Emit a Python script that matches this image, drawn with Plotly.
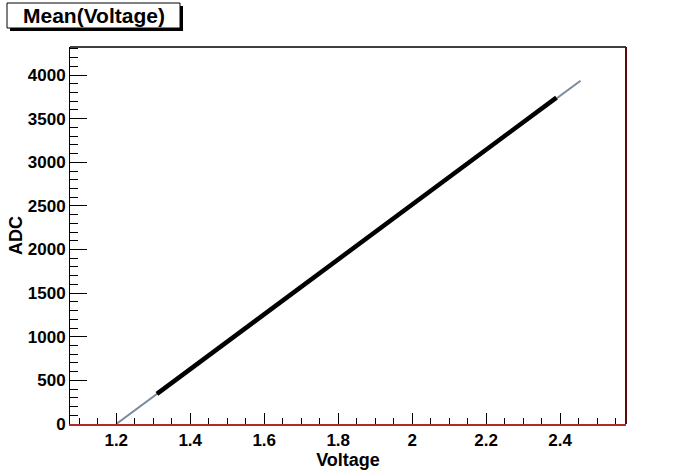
import plotly.graph_objects as go

# Measured data (Voltage vs ADC)
voltage = [1.31, 1.35, 1.40, 1.45, 1.50, 1.55, 1.60, 1.65, 1.70, 1.75, 1.80, 1.85,
           1.90, 1.95, 2.00, 2.05, 2.10, 2.15, 2.20, 2.25, 2.30, 2.35, 2.39]
adc = [346, 472, 629, 786, 943, 1100, 1258, 1415, 1572, 1729, 1886, 2044,
       2201, 2358, 2515, 2672, 2830, 2987, 3144, 3301, 3458, 3616, 3742]

# Linear fit drawn over full range
fit_voltage = [1.2, 2.455]
fit_adc = [0, 3935]

x_range = [1.075, 2.578]
y_range = [0, 4322]

FONT = "Liberation Sans"

fig = go.Figure()
fig.add_trace(go.Scatter(x=fit_voltage, y=fit_adc, mode="lines",
                         line=dict(color="#7a8a9a", width=2), showlegend=False))
fig.add_trace(go.Scatter(x=voltage, y=adc, mode="lines",
                         line=dict(color="black", width=4.5), showlegend=False))

fig.update_layout(
    width=696, height=472,
    margin=dict(l=70, r=70, t=47, b=48, autoexpand=False),
    paper_bgcolor="white", plot_bgcolor="white",
    font=dict(family=FONT, size=17, color="black", weight="bold"),
    xaxis=dict(range=x_range, showgrid=False, zeroline=False, automargin=False,
               showline=True, linecolor="#b02a2a", linewidth=2,
               ticks="inside", ticklen=11, tickwidth=1, tickcolor="black",
               dtick=0.2, tick0=1.2,
               tickfont=dict(family=FONT, size=17, weight="bold"),
               minor=dict(ticks="inside", ticklen=6, dtick=0.05, tick0=1.2, tickcolor="black"),
               title=dict(text="Voltage", font=dict(family=FONT, size=18, weight="bold"), standoff=2)),
    yaxis=dict(range=y_range, showgrid=False, zeroline=False, automargin=False,
               showline=True, linecolor="black", linewidth=1,
               ticks="inside", ticklen=17, tickwidth=1, tickcolor="black",
               dtick=500, tick0=0,
               tickfont=dict(family=FONT, size=17, weight="bold"),
               minor=dict(ticks="inside", ticklen=8, dtick=100, tickcolor="black"),
               title=dict(text="ADC", font=dict(family=FONT, size=18, weight="bold"), standoff=0)),
)

# Top (black) and right (dark red) frame lines
fig.add_shape(type="line", xref="paper", yref="paper", x0=0, x1=1, y0=1, y1=1,
              line=dict(color="black", width=1.5))
fig.add_shape(type="line", xref="paper", yref="paper", x0=1, x1=1, y0=0, y1=1,
              line=dict(color="#5a0a0a", width=2))

# Title box with shadow
fig.add_shape(type="rect", xref="paper", yref="paper",
              x0=(10 - 70) / 556, x1=(183 - 70) / 556,
              y0=(424 - 31) / 377, y1=(424 - 6) / 377,
              fillcolor="black", line=dict(width=0), layer="above")
fig.add_shape(type="rect", xref="paper", yref="paper",
              x0=(7 - 70) / 556, x1=(180 - 70) / 556,
              y0=(424 - 28) / 377, y1=(424 - 3) / 377,
              fillcolor="white", line=dict(color="black", width=1), layer="above")
fig.add_annotation(text="Mean(Voltage)", xref="paper", yref="paper",
                   x=(93.5 - 70) / 556, y=(424 - 15.5) / 377,
                   showarrow=False, xanchor="center", yanchor="middle",
                   font=dict(family=FONT, size=21, weight="bold", color="black"))

fig.write_html("out.html", config={"displayModeBar": False},
               post_script="document.body.style.margin='0px';document.body.style.overflow='hidden';")
